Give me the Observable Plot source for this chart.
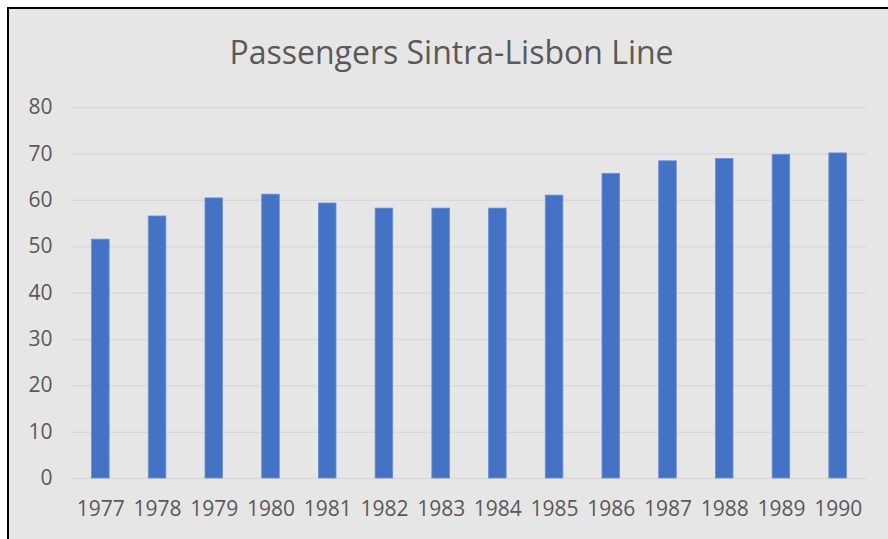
<!DOCTYPE html>
<html>
<head>
<meta charset="utf-8">
<script src="https://cdn.jsdelivr.net/npm/d3@7"></script>
<script src="https://cdn.jsdelivr.net/npm/@observablehq/plot@0.6"></script>
<style>
  html, body { margin: 0; padding: 0; background: #ffffff; }
  #frame {
    position: relative; width: 888px; height: 539px; overflow: hidden;
    background: #ffffff;
  }
  #panel {
    position: absolute; left: 7px; top: 7px; width: 900px; height: 560px;
    background: #e7e6e6; border-left: 2px solid #000; border-top: 2px solid #000;
    box-sizing: border-box;
  }
  #title {
    position: absolute; left: 0; width: 903px; top: 36px; text-align: center;
    font-family: "Open Sans", sans-serif; font-size: 32px; line-height: 32px;
    color: #595959;
  }
  #chart { position: absolute; left: 0; top: 0; }
</style>
</head>
<body>
<div id="frame">
  <div id="panel"></div>
  <div id="title">Passengers Sintra-Lisbon Line</div>
  <div id="chart"></div>
</div>
<script>
const years = ["1977","1978","1979","1980","1981","1982","1983","1984","1985","1986","1987","1988","1989","1990"];
const passengers = [51.5, 56.5, 60.4, 61.2, 59.3, 58.2, 58.2, 58.2, 61.0, 65.7, 68.4, 68.9, 69.8, 70.1];
const yTicks = [0, 10, 20, 30, 40, 50, 60, 70, 80];

const data = years.map((y, i) => ({year: y, value: passengers[i]}));

const chart = Plot.plot({
  width: 888,
  height: 539,
  marginLeft: 72,
  marginRight: 22,
  marginTop: 107,
  marginBottom: 61,
  style: {background: "transparent", fontFamily: "Open Sans, sans-serif", fontSize: "21px", color: "#595959"},
  x: {domain: years, paddingInner: 0.69, paddingOuter: 0.345, round: false, label: null, tickSize: 0, tickPadding: 23},
  y: {domain: [0, 80], ticks: yTicks, label: null, tickSize: 0, tickPadding: 20},
  marks: [
    Plot.gridY(yTicks, {stroke: "#d9d9d9", strokeOpacity: 1, strokeWidth: 1.5}),
    Plot.barY(data, {x: "year", y: "value", fill: "#4472c4", stroke: "#6d8fd3", strokeWidth: 0.8}),
    Plot.axisX({tickSize: 0, tickPadding: 23, fill: "#595959", label: null}),
    Plot.axisY({ticks: yTicks, tickSize: 0, tickPadding: 20, fill: "#595959", label: null})
  ]
});
document.getElementById("chart").appendChild(chart);
</script>
</body>
</html>
